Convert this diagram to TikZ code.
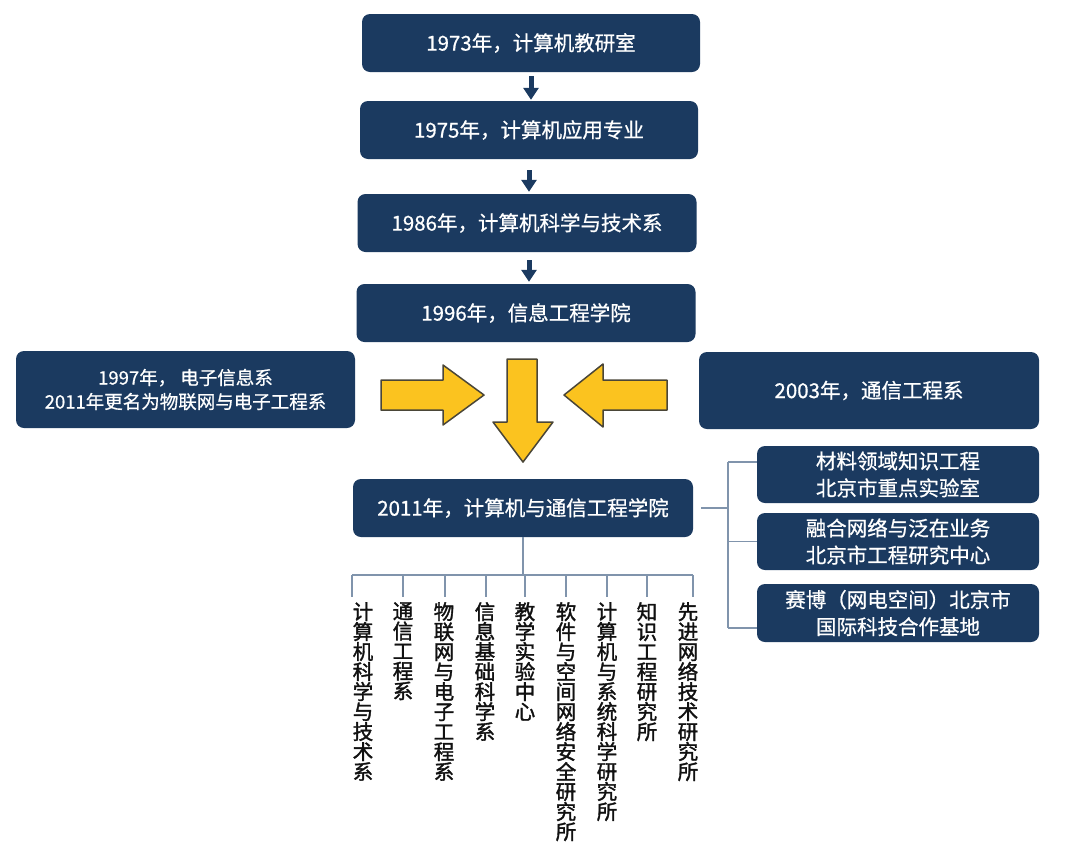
\documentclass[tikz,border=0pt]{standalone}
\usepackage{fontspec}
\setmainfont{Noto Sans CJK SC}[FakeBold=0.7]
\newfontfamily\deptfont{Noto Sans CJK SC}[FakeBold=1.6]
\usepackage{xcolor}
\usepackage{tikz}
\usetikzlibrary{arrows.meta}
\definecolor{CollegeNavy}{HTML}{1B3A60}
\definecolor{CollegeLine}{HTML}{8094AC}
\definecolor{CollegeGold}{HTML}{FBC31F}
\definecolor{CollegeEdge}{HTML}{4A4638}
\definecolor{CollegeText}{HTML}{111111}
\tikzset{
  navybox/.style={fill=CollegeNavy, rounded corners=8pt, text=white, inner sep=0pt, align=center, font=\fontsize{20.5pt}{27pt}\selectfont},
  linkline/.style={CollegeLine, line width=1.3pt},
  stepdown/.style={CollegeNavy, line width=5pt, -{Triangle[width=15pt,length=12pt]}},
  goldarrow/.style={fill=CollegeGold, draw=CollegeEdge, line width=1.5pt, line join=round},
  deptlabel/.style={CollegeText, inner sep=1pt, align=center, font=\deptfont\fontsize{20.5pt}{20pt}\selectfont},
}

\begin{document}
\begin{tikzpicture}[x=1pt,y=-1pt]
        \fill[white] (0,0) rectangle (1080,852);
        \useasboundingbox (0,0) rectangle (1080,852);
        \node[navybox, minimum width=338pt, minimum height=58pt] (y1973) at (531,43) {1973年，计算机教研室};
        \node[navybox, minimum width=338pt, minimum height=58pt] (y1975) at (529,130) {1975年，计算机应用专业};
        \node[navybox, minimum width=339pt, minimum height=58pt] (y1986) at (527,223) {1986年，计算机科学与技术系};
        \node[navybox, minimum width=339pt, minimum height=58pt] (y1996) at (526,313) {1996年，信息工程学院};
        \node[navybox, minimum width=339pt, minimum height=77pt, font=\fontsize{18.5pt}{24pt}\selectfont] (y1997) at (185.5,389.5) {1997年， 电子信息系\\2011年更名为物联网与电子工程系};
        \node[navybox, minimum width=340pt, minimum height=77pt] (y2003) at (869,390.5) {2003年，通信工程系};
        \node[navybox, minimum width=340pt, minimum height=58pt] (main) at (523,508) {2011年，计算机与通信工程学院};
        \node[navybox, minimum width=282pt, minimum height=57pt] (lab1) at (898,474.5) {材料领域知识工程\\北京市重点实验室};
        \node[navybox, minimum width=282pt, minimum height=57pt] (lab2) at (898,541.5) {融合网络与泛在业务\\北京市工程研究中心};
        \node[navybox, minimum width=282pt, minimum height=58pt] (lab3) at (898,613) {赛博（网电空间）北京市\\国际科技合作基地};
        \draw[stepdown, shorten <=4pt, shorten >=1pt] (y1973.south) -- (y1973.south |- y1975.north);
        \draw[stepdown, shorten <=11pt, shorten >=2pt] (y1975.south) -- (y1975.south |- y1986.north);
        \draw[stepdown, shorten <=8pt, shorten >=2pt] (y1975.south |- y1986.south) -- (y1975.south |- y1996.north);
        \draw[goldarrow] (381,380) -- (443,380) -- (443,365) -- (484,395) -- (443,425) -- (443,410) -- (381,410) -- cycle;
        \draw[goldarrow] (667,380) -- (603,380) -- (603,364) -- (564,395) -- (603,427) -- (603,410) -- (667,410) -- cycle;
        \draw[goldarrow] (507,359) -- (537,359) -- (537,422) -- (553,422) -- (523,462) -- (493,422) -- (507,422) -- cycle;
        \coordinate (rjoin) at (728,508);
        \coordinate (rtop) at (728,462);
        \coordinate (rbot) at (728,628);
        \draw[linkline, shorten <=8pt] (main.east) -- (rjoin);
        \draw[linkline] (rtop) -- (rbot);
        \draw[linkline] (rtop) -- (lab1.west |- rtop);
        \draw[linkline] (rjoin |- lab2.west) -- (lab2.west);
        \draw[linkline] (rbot) -- (lab3.west |- rbot);
        \coordinate (bus) at (523,575);
        \draw[linkline] (main.south) -- (bus);
        \draw[linkline] (352,575) -- (693,575);
        \foreach \tx/\cx/\txt [count=\i] in {
          352/363/{计\\算\\机\\科\\学\\与\\技\\术\\系},
          403/403/{通\\信\\工\\程\\系},
          445/444/{物\\联\\网\\与\\电\\子\\工\\程\\系},
          486/485/{信\\息\\基\\础\\科\\学\\系},
          525/525/{教\\学\\实\\验\\中\\心},
          566/566/{软\\件\\与\\空\\间\\网\\络\\安\\全\\研\\究\\所},
          607/607/{计\\算\\机\\与\\系\\统\\科\\学\\研\\究\\所},
          647/647/{知\\识\\工\\程\\研\\究\\所},
          693/688/{先\\进\\网\\络\\技\\术\\研\\究\\所}} {
          \node[deptlabel, anchor=north] (dept\i) at (\cx,601) {\txt};
          \draw[linkline, shorten >=4pt] (\tx,575) -- (\tx,601);
        }
      \end{tikzpicture}
\end{document}
